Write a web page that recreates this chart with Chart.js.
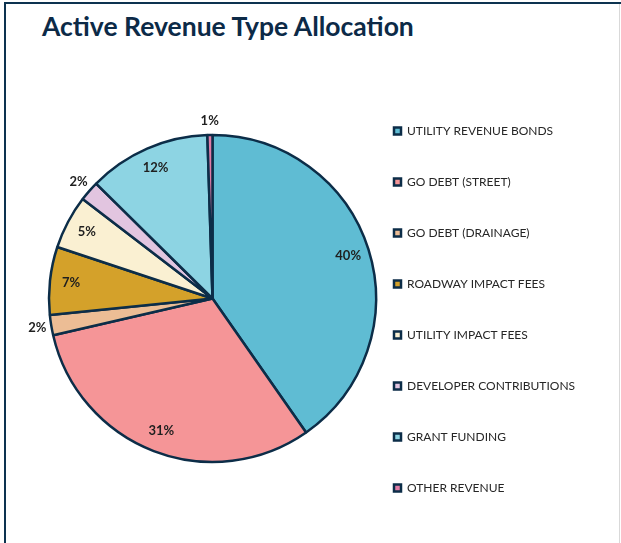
<!DOCTYPE html>
<html>
<head>
<meta charset="utf-8">
<script src="https://cdn.jsdelivr.net/npm/chart.js@4"></script>
<style>
    body { margin: 0; background: #fff; }
    .wrap { position: relative; width: 621px; height: 543px; overflow: hidden; }
    .frame { position: absolute; left: 4px; top: 2px; width: 617px; height: 541px; border-top: 2px solid #0d3350; border-left: 2px solid #0d3350; box-sizing: border-box; }
    .edge { position: absolute; left: 619px; top: 4px; width: 1px; height: 539px; background: #d9d9d9; }
    .title { position: absolute; left: 42px; top: 10px; font: bold 26.5px Lato, sans-serif; color: #0c2a47; white-space: nowrap; }
    canvas { position: absolute; left: 0; top: 0; }
</style>
</head>
<body>
<div class="wrap">
    <div class="frame"></div>
    <div class="edge"></div>
    <div class="title">Active Revenue Type Allocation</div>
    <canvas id="pie-chart" width="621" height="543"></canvas>
</div>
<script>
    // Data
    const categories = ['UTILITY REVENUE BONDS', 'GO DEBT (STREET)', 'GO DEBT (DRAINAGE)', 'ROADWAY IMPACT FEES',
        'UTILITY IMPACT FEES', 'DEVELOPER CONTRIBUTIONS', 'GRANT FUNDING', 'OTHER REVENUE'];
    const shares = [40.3, 31.1, 2.0, 6.7, 5.3, 2.0, 12.1, 0.5];
    const colors = ['#5fbcd3', '#f59597', '#ecbd95', '#d4a12a', '#faf0d2', '#e2c5e0', '#8dd4e3', '#e17ca6'];

    const legendFont = { family: 'Lato', size: 12 };

    // work out right padding so the legend sits where we want it
    const measure = document.createElement('canvas').getContext('2d');
    measure.font = legendFont.size + 'px ' + legendFont.family;
    const longest = Math.max(...categories.map(c => measure.measureText(c).width));
    const itemWidth = 7 + legendFont.size / 2 + longest;
    const padRight = 621 - 355 - 39 - 10 - itemWidth;

    // Percent labels
    const percentLabels = {
        id: 'percentLabels',
        afterDatasetsDraw(chart) {
            const ctx = chart.ctx;
            const data = chart.data.datasets[0].data;
            const total = data.reduce((a, b) => a + b, 0);
            ctx.save();
            ctx.font = 'bold 13px Lato';
            ctx.fillStyle = '#1f1f1f';
            ctx.textAlign = 'center';
            ctx.textBaseline = 'middle';
            chart.getDatasetMeta(0).data.forEach((arc, i) => {
                const p = arc.getProps(['x', 'y', 'startAngle', 'endAngle', 'outerRadius']);
                const pct = data[i] / total * 100;
                const mid = (p.startAngle + p.endAngle) / 2;
                const r = pct < 3 ? p.outerRadius + 14 : p.outerRadius * 0.87;
                ctx.fillText(Math.round(pct) + '%', p.x + Math.cos(mid) * r, p.y + Math.sin(mid) * r);
            });
            ctx.restore();
        }
    };

    const pieChart = new Chart(document.getElementById('pie-chart'), {
        type: 'pie',
        data: {
            labels: categories,
            datasets: [{
                data: shares,
                backgroundColor: colors,
                borderColor: '#0c2d48',
                borderWidth: 2.5,
                radius: 163.5
            }]
        },
        options: {
            responsive: false,
            animation: false,
            events: [],
            layout: {
                padding: { left: 70, top: 60, bottom: 6, right: padRight }
            },
            plugins: {
                tooltip: { enabled: false },
                legend: {
                    position: 'right',
                    align: 'start',
                    // empty title only used as a spacer above the items
                    title: { display: true, text: '', font: { size: 10, lineHeight: 1 }, padding: { top: 16, bottom: 0 } },
                    labels: {
                        boxWidth: 7,
                        boxHeight: 7,
                        padding: 39,
                        color: '#262626',
                        font: legendFont
                    }
                }
            }
        },
        plugins: [percentLabels]
    });
</script>
</body>
</html>
